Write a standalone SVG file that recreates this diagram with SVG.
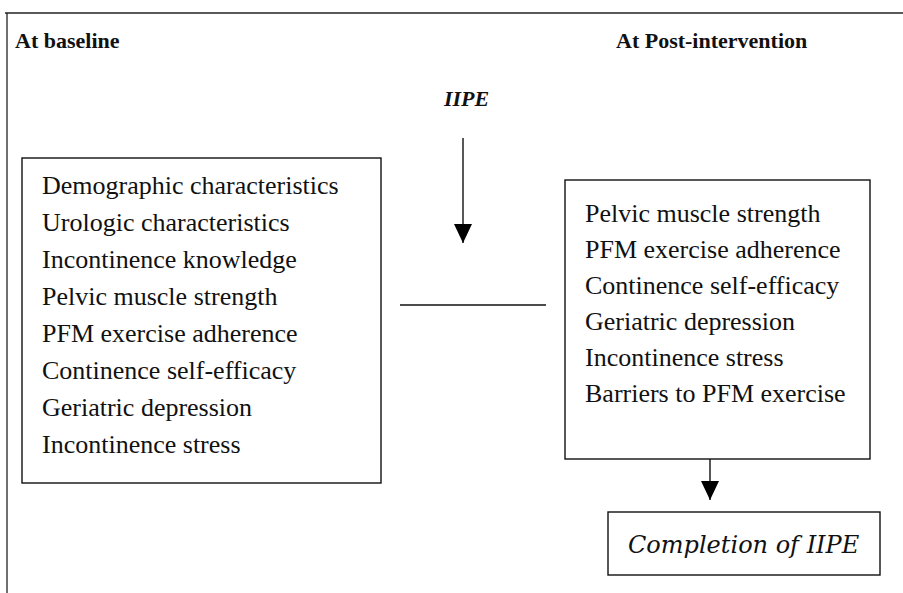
<svg xmlns="http://www.w3.org/2000/svg" width="903" height="593" viewBox="0 0 903 593">
<defs>
<marker id="tri" markerWidth="19" markerHeight="18" refX="19" refY="9" orient="auto" markerUnits="userSpaceOnUse" viewBox="0 0 19 18">
<path d="M0,0 L19,9 L0,18 Z" fill="#000"/>
</marker>
</defs>
<style>
.frame{stroke:#222;stroke-width:1.3;fill:none}
.box{fill:#fff;stroke:#111;stroke-width:1.4}
.hdr{font-family:"Liberation Serif",serif;font-weight:bold;font-size:22px;fill:#111}
.item{font-family:"Liberation Serif",serif;font-size:26px;fill:#111}
.conn{stroke:#111;stroke-width:1.4;fill:none}
</style>
<rect width="903" height="593" fill="#fff"/>
<g id="frame">
<line class="frame" x1="5" y1="13" x2="903" y2="13"/>
<line class="frame" x1="7" y1="13" x2="7" y2="593"/>
</g>
<g id="headers">
<text class="hdr" x="15" y="48">At baseline</text>
<text class="hdr" x="616" y="48">At Post-intervention</text>
</g>
<g id="iipe">
<text x="444" y="106" style="font-family:'Liberation Serif',serif;font-weight:bold;font-style:italic;font-size:22px;fill:#111">IIPE</text>
</g>
<g id="baseline">
<rect class="box" x="22" y="158" width="359" height="325"/>
<text class="item" x="42" y="194">Demographic characteristics</text>
<text class="item" x="42" y="231">Urologic characteristics</text>
<text class="item" x="42" y="268">Incontinence knowledge</text>
<text class="item" x="42" y="305">Pelvic muscle strength</text>
<text class="item" x="42" y="342">PFM exercise adherence</text>
<text class="item" x="42" y="379">Continence self-efficacy</text>
<text class="item" x="42" y="416">Geriatric depression</text>
<text class="item" x="42" y="453">Incontinence stress</text>
</g>
<g id="post">
<rect class="box" x="565" y="180" width="305" height="279"/>
<text class="item" x="585" y="222">Pelvic muscle strength</text>
<text class="item" x="585" y="258">PFM exercise adherence</text>
<text class="item" x="585" y="294">Continence self-efficacy</text>
<text class="item" x="585" y="330">Geriatric depression</text>
<text class="item" x="585" y="366">Incontinence stress</text>
<text class="item" x="585" y="402">Barriers to PFM exercise</text>
</g>
<g id="completion">
<rect class="box" x="608" y="512" width="272" height="63"/>
<text x="628" y="553" style="font-family:'DejaVu Serif',serif;font-style:italic;font-size:24px;fill:#111">Completion of IIPE</text>
</g>
<g id="connectors">
<line class="conn" x1="463" y1="138" x2="463" y2="243" marker-end="url(#tri)"/>
<line class="conn" x1="400" y1="305" x2="546" y2="305"/>
<line class="conn" x1="710" y1="459" x2="710" y2="500" marker-end="url(#tri)"/>
</g>
</svg>
